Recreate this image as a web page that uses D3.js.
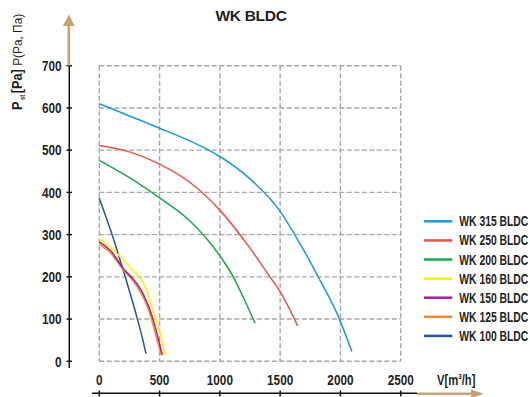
<!DOCTYPE html>
<html><head><meta charset="utf-8">
<script src="https://cdn.jsdelivr.net/npm/d3@7"></script>
<style>body{margin:0;background:#fff}svg{display:block}</style>
</head><body><svg id="c" width="530" height="397"></svg>
<script>
const xTicks = [0, 500, 1000, 1500, 2000, 2500];
const yTicks = [0, 100, 200, 300, 400, 500, 600, 700];
const seriesNames = ["WK 315 BLDC","WK 250 BLDC","WK 200 BLDC","WK 160 BLDC","WK 150 BLDC","WK 125 BLDC","WK 100 BLDC"];
const seriesColors = ["#1d9ad6","#e8534a","#1aa650","#fff200","#a3238e","#f58634","#2752a3"];
const wk315 = [[0,610],[250,581],[500,552],[750,522],[1000,485],[1250,432],[1500,355],[1623,299],[1816,200],[1990,101],[2095,23]];
const wk250 = [[0,511],[250,496],[500,467],[750,424],[1000,358],[1250,268],[1415,200],[1500,165],[1645,84]];
const wk200 = [[0,476],[250,435],[500,387],[750,333],[1000,250],[1111,200],[1200,148],[1291,90]];
const wk160 = [[0,290],[90,270],[200,240],[280,215],[337,197],[393,169],[440,125],[503,66],[545,15]];
const wk150 = [[0,283],[100,260],[199,220],[280,195],[337,173],[380,150],[420,122],[489,54],[522,15]];
const wk125 = [[0,278],[100,254],[199,216],[280,190],[337,166],[380,142],[420,112],[480,50],[515,15]];
const wk100 = [[0,386],[60,338],[120,288],[172,240],[215,200],[270,147],[318,98],[360,52],[387,18]];
const seriesData = [wk315, wk250, wk200, wk160, wk150, wk125, wk100];

const svg = d3.select("#c");
const x = d3.scaleLinear().domain([0,2500]).range([99.3,400.7]);
const y = d3.scaleLinear().domain([0,700]).range([361.3,65.7]);
const FN = "'Liberation Sans',Arial,sans-serif";
const INK = "#231f20";
const brown = "#c4a57a";

// helper: horizontally condensed text
function ctext(parent, tx, ty, str, size, weight, anchor, sx){
  const g = parent.append("g").attr("transform",`translate(${tx},${ty}) scale(${sx},1)`);
  return g.append("text").attr("x",0).attr("y",0).attr("text-anchor",anchor)
    .attr("font-family",FN).attr("font-weight",weight).attr("font-size",size).attr("fill",INK).text(str);
}

// grid
const grid = svg.append("g").attr("stroke","#a6a6a6").attr("stroke-width",1.4).attr("stroke-dasharray","5,2.5").attr("fill","none");
grid.selectAll("line.h").data(yTicks).join("line").attr("class","h")
  .attr("x1",x(0)).attr("x2",x(2500)).attr("y1",d=>y(d)).attr("y2",d=>y(d));
grid.selectAll("line.v").data(xTicks).join("line").attr("class","v")
  .attr("y1",y(700)).attr("y2",y(0)).attr("x1",d=>x(d)).attr("x2",d=>x(d));

// y axis
const yAx = svg.append("g");
yAx.append("line").attr("x1",69.3).attr("x2",69.3).attr("y1",y(700)).attr("y2",368).attr("stroke","#111").attr("stroke-width",1.5);
yAx.selectAll("line.t").data(yTicks).join("line").attr("class","t")
  .attr("x1",66.5).attr("x2",72).attr("y1",d=>y(d)).attr("y2",d=>y(d)).attr("stroke","#111").attr("stroke-width",1.5);
yTicks.forEach(t=>ctext(yAx, 61.5, y(t)+5.2, String(t), 14, "bold", "end", 0.84));
// y arrow
yAx.append("line").attr("x1",68.8).attr("x2",68.8).attr("y1",y(700)).attr("y2",24).attr("stroke",brown).attr("stroke-width",2.6);
yAx.append("path").attr("d","M68.8,14.5 L74.8,26 L62.8,26 Z").attr("fill",brown);

// x axis
const xAx = svg.append("g");
xAx.append("line").attr("x1",92).attr("x2",417).attr("y1",393.3).attr("y2",393.3).attr("stroke","#111").attr("stroke-width",1.5);
xAx.selectAll("line.t").data(xTicks).join("line").attr("class","t")
  .attr("x1",d=>x(d)).attr("x2",d=>x(d)).attr("y1",390.5).attr("y2",396.5).attr("stroke","#111").attr("stroke-width",1.5);
xTicks.forEach(t=>ctext(xAx, x(t), 384.5, String(t), 14, "bold", "middle", 0.84));
xAx.append("line").attr("x1",417).attr("x2",472).attr("y1",393.8).attr("y2",393.8).attr("stroke",brown).attr("stroke-width",2.6);
xAx.append("path").attr("d","M483.5,393.8 L471,389.3 L471,398.3 Z").attr("fill",brown);

// x label
const xl = ctext(svg, 437, 384.5, "", 14, "bold", "start", 0.8);
xl.append("tspan").text("V[m");
xl.append("tspan").attr("font-size",8).attr("dy",-5.5).text("3");
xl.append("tspan").attr("dy",5.5).text("/h]");

// y label
const yl = svg.append("g").attr("transform","translate(22,110) rotate(-90) scale(0.88,1)")
  .append("text").attr("font-family",FN).attr("fill",INK);
yl.append("tspan").attr("font-weight","bold").attr("font-size",14.5).text("P");
yl.append("tspan").attr("font-weight","bold").attr("font-size",6.5).attr("dy",3).text(" st ");
yl.append("tspan").attr("font-weight","bold").attr("font-size",14.5).attr("dy",-3).text("[Pa]");
yl.append("tspan").attr("font-size",13.5).text(" P(Pa, Па)");

// title
svg.append("text").attr("x",251).attr("y",20.7).attr("text-anchor","middle")
  .attr("font-family",FN).attr("font-weight","bold").attr("font-size",15.5)
  .attr("letter-spacing",-0.3).attr("fill",INK).text("WK BLDC");

// lines
const line = d3.line().x(d=>x(d[0])).y(d=>y(d[1])).curve(d3.curveMonotoneX);
const drawOrder = [0,1,2,6,3,5,4];
svg.append("g").selectAll("path").data(drawOrder).join("path")
  .attr("d",i=>line(seriesData[i])).attr("fill","none").attr("stroke",i=>seriesColors[i]).attr("stroke-width",1.5);

// legend
const lg = svg.append("g");
seriesNames.forEach((n,i)=>{
  const yy = 221.3 + i*19.1;
  lg.append("line").attr("x1",424).attr("x2",452.3).attr("y1",yy).attr("y2",yy).attr("stroke",seriesColors[i]).attr("stroke-width",2.5);
  ctext(lg, 459.3, yy+5, n, 14, "bold", "start", 0.74);
});
</script></body></html>
